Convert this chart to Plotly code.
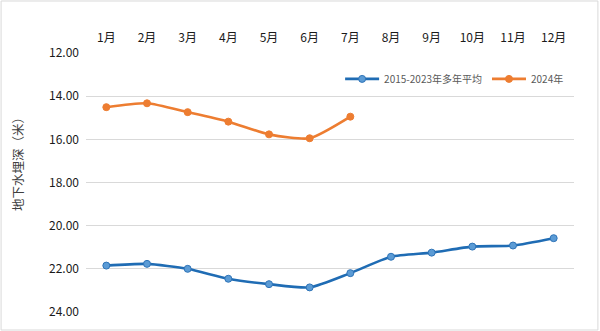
import plotly.graph_objects as go

months = ["1月", "2月", "3月", "4月", "5月", "6月", "7月", "8月", "9月", "10月", "11月", "12月"]
avg_2015_2023 = [21.85, 21.77, 22.00, 22.46, 22.71, 22.86, 22.20, 21.44, 21.25, 20.97, 20.92, 20.58]
months_2024 = months[:7]
depth_2024 = [14.51, 14.33, 14.74, 15.18, 15.77, 15.95, 14.95]
y_ticks = [12, 14, 16, 18, 20, 22, 24]
y_labels = ["12.00", "14.00", "16.00", "18.00", "20.00", "22.00", "24.00"]

font = "Noto Sans CJK SC, Noto Sans, sans-serif"

fig = go.Figure()
fig.add_trace(go.Scatter(
    x=months, y=avg_2015_2023, name="2015-2023年多年平均",
    mode="lines+markers",
    line=dict(color="#1f6cb4", width=2.6, shape="spline", smoothing=0.6),
    marker=dict(size=7, color="#5b9bd5", line=dict(color="#2f74b8", width=1)),
))
fig.add_trace(go.Scatter(
    x=months_2024, y=depth_2024, name="2024年",
    mode="lines+markers",
    line=dict(color="#ed7d31", width=2.6, shape="spline", smoothing=0.6),
    marker=dict(size=7, color="#ed7d31", line=dict(color="#ed7d31", width=1)),
))

fig.update_layout(
    width=600, height=331,
    margin=dict(l=86, r=26, t=53, b=19),
    paper_bgcolor="white", plot_bgcolor="white",
    font=dict(family=font, size=11, color="#404040"),
    showlegend=True,
    legend=dict(
        orientation="h", x=0.99, xanchor="right", y=0.9, yanchor="middle",
        font=dict(size=10, color="#595959"), bgcolor="rgba(0,0,0,0)",
        itemwidth=34, tracegroupgap=0,
    ),
    xaxis=dict(
        side="top", type="category", categoryorder="array", categoryarray=months,
        range=[-0.5, 11.5], showgrid=False, showline=False, ticks="",
        tickfont=dict(size=12, color="#1a1a1a"), ticklabelstandoff=8,
    ),
    yaxis=dict(
        range=[24, 12], tickvals=y_ticks, ticktext=y_labels,
        showgrid=True, gridcolor="#d9d9d9", gridwidth=1,
        zeroline=False, showline=False, ticks="",
        tickfont=dict(size=12, color="#1a1a1a"), ticklabelstandoff=6,
    ),
    annotations=[dict(
        text="地下水埋深（米）", xref="paper", yref="paper",
        x=(17 - 86) / 488, y=1 - (161 - 53) / 259,
        xanchor="center", yanchor="middle", textangle=-90, showarrow=False,
        font=dict(size=12.5, color="#404040"),
    )],
    shapes=[dict(
        type="rect", xref="paper", yref="paper",
        x0=-0.174, x1=1.049, y0=-0.0695, y1=1.2008,
        line=dict(color="#d9d9d9", width=1), fillcolor="rgba(0,0,0,0)", layer="below",
    )],
)

fig.write_html("out.html")
